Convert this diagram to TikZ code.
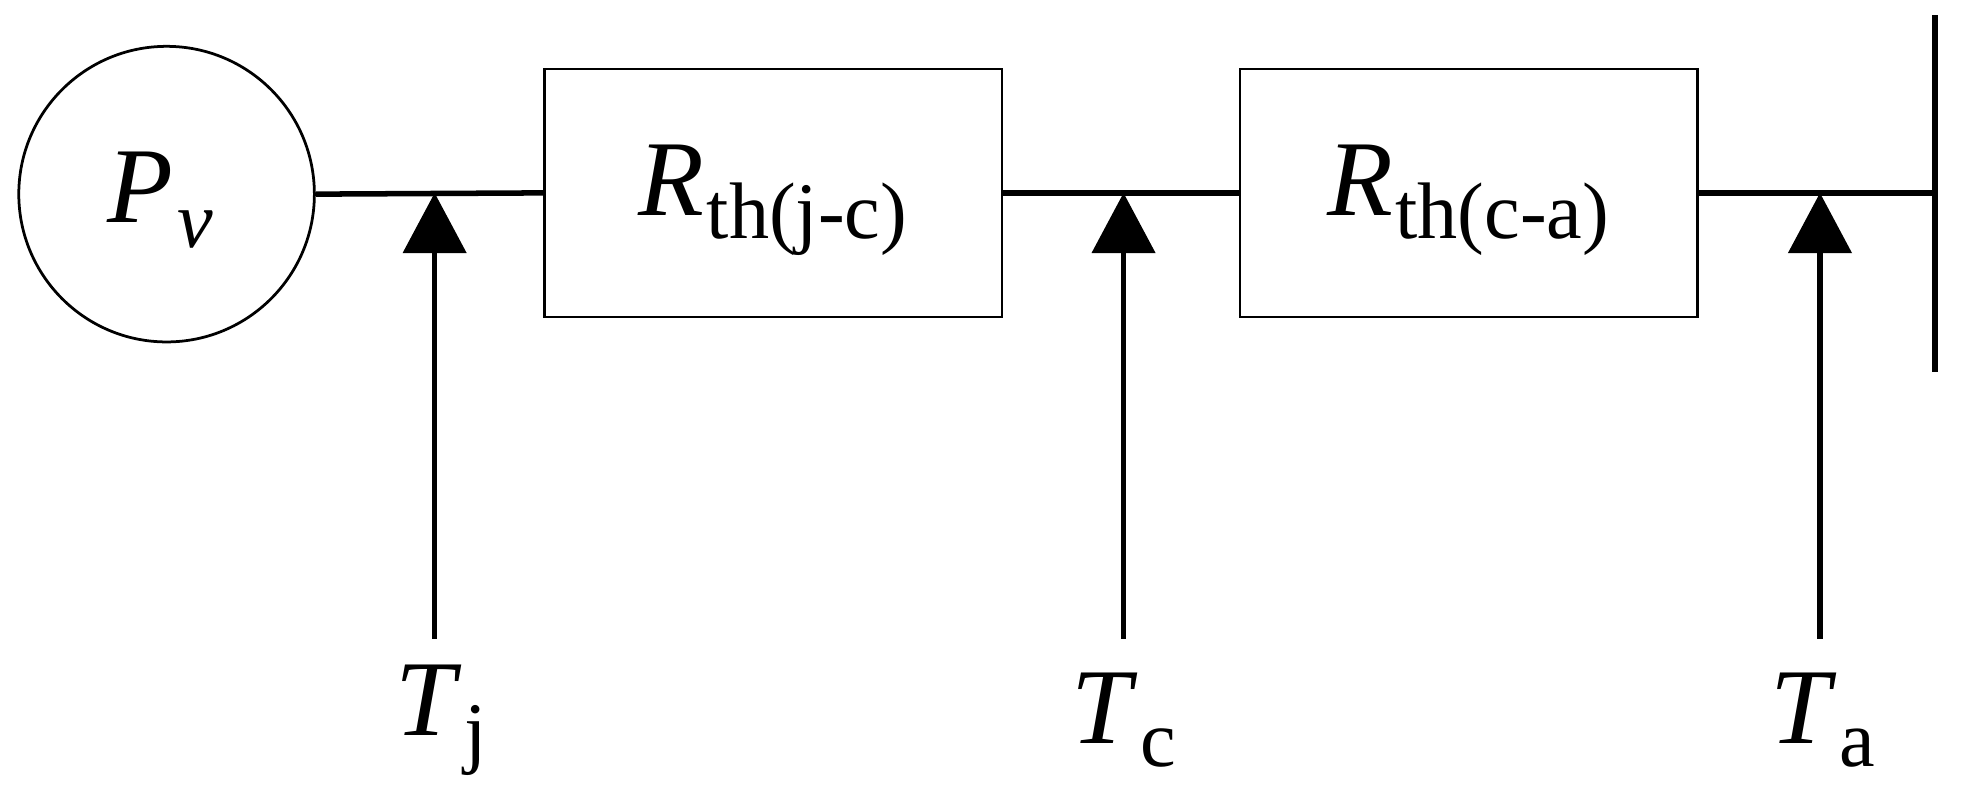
\documentclass[tikz,border=0pt]{standalone}
\usepackage{fontspec}
\setmainfont{Liberation Serif}
\usetikzlibrary{arrows.meta}
\begin{document}
\begin{tikzpicture}[x=0.5pt,y=-0.5pt,
  thin line/.style={line width=1.1pt},
  wire/.style={line width=2.2pt},
  flow/.style={line width=2.2pt,-{Triangle[width=25pt,length=24pt]}},
  lbl/.style={font=\fontsize{43}{45}\selectfont, inner sep=0pt},
  sub/.style={}]
\useasboundingbox (0,0) rectangle (1568,635);
\node[thin line,draw,circle,minimum size=118pt,inner sep=0pt] (pv) at (133,155) {};
\node[lbl] at (128,160) {\textit{P}\kern2pt\raisebox{-10pt}{\fontsize{32}{32}\selectfont\textit{v}}};
\node[thin line,draw,minimum width=182.5pt,minimum height=99pt,inner sep=0pt] (r1) at (617.5,154) {};
\node[lbl] at (617,160) {\textit{R}\kern1pt\raisebox{-9pt}{\fontsize{32}{32}\selectfont th(j-c)}};
\node[thin line,draw,minimum width=182.5pt,minimum height=99pt,inner sep=0pt] (r2) at (1172.5,154) {};
\node[lbl] at (1172,160) {\textit{R}\kern1pt\raisebox{-9pt}{\fontsize{32}{32}\selectfont th(c-a)}};
\coordinate (bt) at (1545,12);
\coordinate (bb) at (1545,297);
\coordinate (bm) at (1545,154);
\draw[wire] (bt) -- (bb);
\draw[wire] (pv.east) -- (r1.west);
\draw[wire] (r1.east) -- (r2.west);
\draw[wire] (r2.east) -- (bm);
\coordinate (j0) at (347,510); \coordinate (j1) at (347,154);
\coordinate (c0) at (897,510); \coordinate (c1) at (897,154);
\coordinate (a0) at (1453,510); \coordinate (a1) at (1453,154);
\draw[flow] (j0) -- (j1);
\draw[flow] (c0) -- (c1);
\draw[flow] (a0) -- (a1);
\node[lbl] (tj) at (352,575) {\textit{T}\kern1pt\raisebox{-9pt}{\fontsize{32}{32}\selectfont j}};
\node[lbl] (tc) at (897,575) {\textit{T}\kern1pt\raisebox{-9pt}{\fontsize{32}{32}\selectfont c}};
\node[lbl] (ta) at (1455,575) {\textit{T}\kern1pt\raisebox{-9pt}{\fontsize{32}{32}\selectfont a}};
\end{tikzpicture}
\end{document}
